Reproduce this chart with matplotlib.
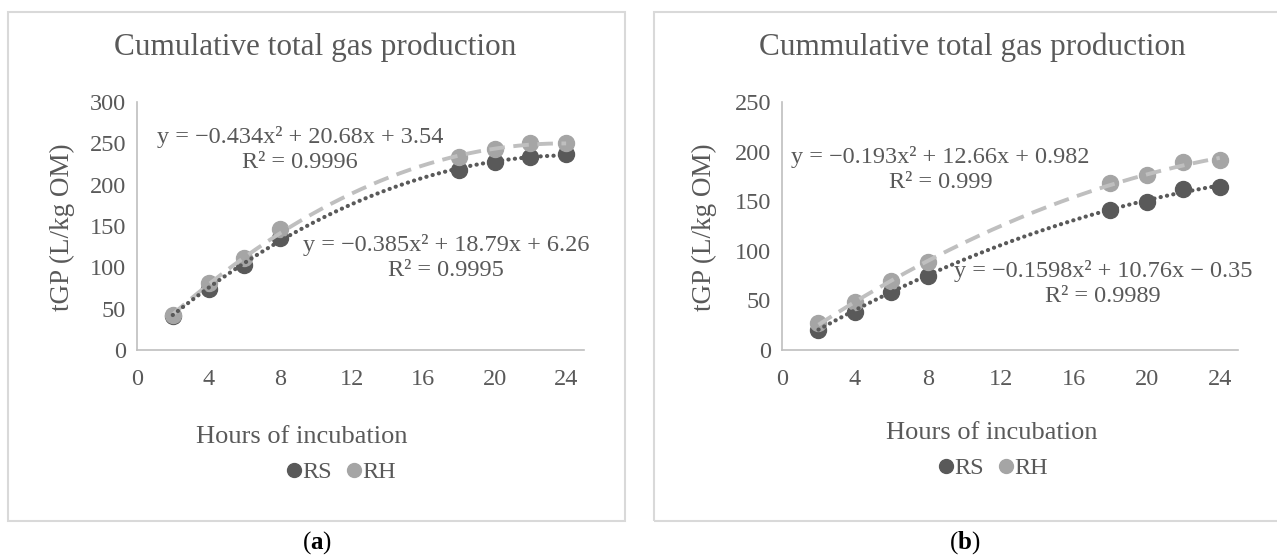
import numpy as np
import matplotlib
matplotlib.use("Agg")
import matplotlib.pyplot as plt
from matplotlib.patches import Rectangle
from matplotlib.lines import Line2D

plt.rcParams['font.family'] = ['Liberation Serif', 'DejaVu Serif']
plt.rcParams['mathtext.fontset'] = 'custom'
plt.rcParams['mathtext.rm'] = 'Liberation Serif'
plt.rcParams['mathtext.bf'] = 'Liberation Serif:bold'

# data
hours = [2, 4, 6, 8, 18, 20, 22, 24]
rs_a = [41, 74, 103, 135, 218, 227, 234, 237]
rh_a = [42, 81, 111, 146, 234, 243, 250, 251]
rs_b = [20, 38, 58, 75, 141, 149, 162, 164]
rh_b = [27, 48, 70, 89, 168, 176, 190, 192]

# trendline coefficients as printed on the chart
fit_rh_a = [-0.434, 20.68, 3.54]
fit_rs_a = [-0.385, 18.79, 6.26]
fit_rh_b = [-0.193, 12.66, 0.982]
fit_rs_b = [-0.1598, 10.76, -0.35]

eq_rh_a = "y = \u22120.434x\u00b2 + 20.68x + 3.54\nR\u00b2 = 0.9996"
eq_rs_a = "y = \u22120.385x\u00b2 + 18.79x + 6.26\nR\u00b2 = 0.9995"
eq_rh_b = "y = \u22120.193x\u00b2 + 12.66x + 0.982\nR\u00b2 = 0.999"
eq_rs_b = "y = \u22120.1598x\u00b2 + 10.76x \u2212 0.35\nR\u00b2 = 0.9989"

W, H = 1277, 558
RS_COL = '#595959'
RH_COL = '#a5a5a5'
TXT = '#595959'
AXC = '#bfbfbf'

fig = plt.figure(figsize=(W / 100, H / 100), dpi=100)

def fx(px):
    return px / W

def fy(py):
    return 1 - py / H

def panel(x0, x1, ymax, rs, rh, frs, frh, eqrh, posrh, eqrs, posrs,
          title, tx, xlx, xly, ylx, legx, legy, lab, labx):
    # chart frame
    fig.patches.append(Rectangle((fx(x0[0]), fy(521)), fx(x0[1] - x0[0]), fy(12) - fy(521),
                                 transform=fig.transFigure, fill=False,
                                 edgecolor='#d9d9d9', lw=1.5))
    ax = fig.add_axes([fx(x1[0]), fy(350), fx(x1[1] - x1[0]), fy(102) - fy(350)])
    xs = np.linspace(2, 24, 200)
    ax.plot(xs, np.polyval(frh, xs), color='#bfbfbf', lw=2.8, ls=(0, (4, 2.2)),
            zorder=3)
    ax.plot(xs, np.polyval(frs, xs), color=RS_COL, lw=3.0, ls=(0, (0.05, 1.5)),
            dash_capstyle='round', zorder=3)
    ax.plot(hours, rs, 'o', color=RS_COL, ms=11.5, zorder=2)
    ax.plot(hours, rh, 'o', color=RH_COL, ms=11.5, zorder=2)
    ax.set_xlim(0, 25)
    ax.set_ylim(0, ymax)
    ax.set_xticks(range(0, 25, 4))
    ax.set_yticks(range(0, ymax + 1, 50))
    for s in ['top', 'right']:
        ax.spines[s].set_visible(False)
    for s in ['left', 'bottom']:
        ax.spines[s].set_color(AXC)
        ax.spines[s].set_linewidth(1.2)
    ax.tick_params(length=0, labelsize=17.5, colors=TXT, pad=14)
    ax.tick_params(axis='y', pad=8)
    ax.text(posrh[0], posrh[1], eqrh, ha='center', va='center', fontsize=17.5,
            color=TXT, linespacing=1.25)
    ax.text(posrs[0], posrs[1], eqrs, ha='center', va='center', fontsize=17.5,
            color=TXT, linespacing=1.25)
    fig.text(fx(tx), fy(47), title, ha='center', va='center', fontsize=22.5, color=TXT)
    fig.text(fx(xlx), fy(xly), 'Hours of incubation', ha='center', va='center',
             fontsize=19, color=TXT)
    fig.text(fx(ylx), fy(227), 'tGP (L/kg OM)', ha='center', va='center',
             fontsize=19.5, color=TXT, rotation=90)
    handles = [Line2D([], [], ls='none', marker='o', color=RS_COL, ms=10),
               Line2D([], [], ls='none', marker='o', color=RH_COL, ms=10)]
    fig.legend(handles, ['RS', 'RH'], loc='center', ncol=2,
               bbox_to_anchor=(fx(legx), fy(legy)), frameon=False, fontsize=17.5,
               handlelength=0.6, handletextpad=0.05, columnspacing=0.6,
               labelcolor=TXT)
    fig.text(fx(labx), fy(543), lab, ha='center', va='center', fontsize=18,
             color='black')
    return ax

panel((8, 625), (137, 584), 300, rs_a, rh_a, fit_rs_a, fit_rh_a,
      eq_rh_a, (9.1, 243), eq_rs_a, (17.3, 112),
      'Cumulative total gas production', 315, 302, 437, 62, 341, 472,
      '($\\mathbf{a}$)', 317)
panel((654, 1282), (782, 1238), 250, rs_b, rh_b, fit_rs_b, fit_rh_b,
      eq_rh_b, (8.7, 182), eq_rs_b, (17.6, 67),
      'Cummulative total gas production', 972, 992, 433, 704, 993, 468,
      '($\\mathbf{b}$)', 965)

fig.savefig('out.png', dpi=100)
